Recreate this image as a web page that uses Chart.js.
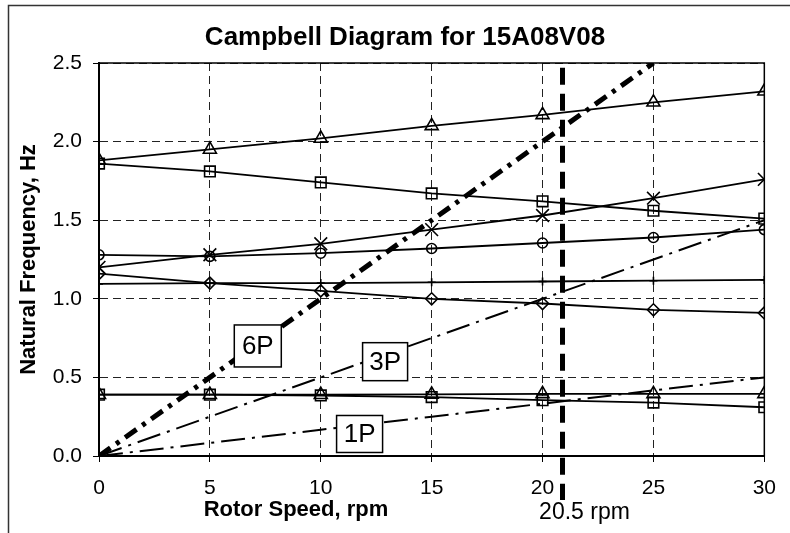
<!DOCTYPE html>
<html>
<head>
<meta charset="utf-8">
<script src="https://cdn.jsdelivr.net/npm/chart.js@4.4.1/dist/chart.umd.min.js"></script>
<style>
  html, body { margin: 0; padding: 0; background: #fff; }
  #wrap { width: 790px; height: 533px; }
</style>
</head>
<body>
<div id="wrap"><canvas id="myChart" width="790" height="533"></canvas></div>
<script>
// Rotor speeds (rpm)
const rpm = [0, 5, 10, 15, 20, 25, 30];
const rpm6P = [0, 5, 10, 15, 20, 25];

// Natural frequencies (Hz)
const modeTriUp   = [1.88, 1.95, 2.02, 2.10, 2.17, 2.25, 2.32];
const modeSqUp    = [1.86, 1.81, 1.74, 1.67, 1.62, 1.56, 1.51];
const modeCross   = [1.20, 1.28, 1.35, 1.44, 1.53, 1.64, 1.76];
const modeCircle  = [1.28, 1.27, 1.29, 1.32, 1.355, 1.39, 1.44];
const modeDiamond = [1.16, 1.10, 1.05, 1.00, 0.97, 0.93, 0.91];
const modePlus    = [1.095, 1.10, 1.10, 1.105, 1.11, 1.115, 1.12];
const modeTriLow  = [0.39, 0.39, 0.39, 0.392, 0.395, 0.395, 0.395];
const modeSqLow   = [0.39, 0.39, 0.385, 0.375, 0.355, 0.34, 0.31];

// Excitation lines (1P, 3P, 6P)
const excite1P = [0, 0.083, 0.167, 0.25, 0.333, 0.417, 0.5];
const excite3P = [0, 0.25, 0.5, 0.75, 1.0, 1.25, 1.5];
const excite6P = [0, 0.5, 1.0, 1.5, 2.0, 2.5];

// Operating speed marker
const opRpm = [20.9, 20.9];
const opFreq = [2.47, -0.28];
const opLabel = '20.5 rpm';

const chartTitle = 'Campbell Diagram for 15A08V08';
const xTitle = 'Rotor Speed, rpm';
const yTitle = 'Natural Frequency, Hz';

const FONT = '"Liberation Sans", Arial, sans-serif';

function pts(xs, ys) {
    return xs.map((x, i) => ({ x: x, y: ys[i] }));
}

function mode(ys, style, radius) {
    return {
        data: pts(rpm, ys),
        borderColor: '#000',
        borderWidth: 1.8,
        pointStyle: style,
        pointRadius: radius,
        pointBorderColor: '#000',
        pointBorderWidth: 1.6,
        pointBackgroundColor: 'rgba(0,0,0,0)',
        fill: false
    };
}

function excite(xs, ys, width, dash) {
    return {
        data: pts(xs, ys),
        borderColor: '#000',
        borderWidth: width,
        borderDash: dash,
        pointRadius: 0,
        fill: false
    };
}

// Labels on the excitation lines, boxes with white fill
const boxLabels = [
    { text: '6P', x: 7.16, y: 0.70, w: 47, h: 42 },
    { text: '3P', x: 12.9, y: 0.60, w: 45, h: 38 },
    { text: '1P', x: 11.75, y: 0.14, w: 46, h: 37 }
];

const decor = {
    id: 'decor',
    beforeDraw(chart) {
        const c = chart.ctx;
        c.save();
        c.fillStyle = '#fff';
        c.fillRect(0, 0, chart.width, chart.height);
        c.restore();
    },
    beforeDatasetsDraw(chart) {
        const c = chart.ctx, a = chart.chartArea;
        c.save();
        c.strokeStyle = '#000';
        c.lineWidth = 1.5;
        c.strokeRect(a.left, a.top, a.right - a.left, a.bottom - a.top);
        c.restore();
    },
    afterDatasetsDraw(chart) {
        const c = chart.ctx;
        const xs = chart.scales.x, ys = chart.scales.y;
        c.save();
        c.font = '26px ' + FONT;
        c.textAlign = 'center';
        c.textBaseline = 'middle';
        boxLabels.forEach(b => {
            const px = xs.getPixelForValue(b.x), py = ys.getPixelForValue(b.y);
            c.fillStyle = '#fff';
            c.fillRect(px - b.w / 2, py - b.h / 2, b.w, b.h);
            c.strokeStyle = '#000';
            c.lineWidth = 1.5;
            c.strokeRect(px - b.w / 2, py - b.h / 2, b.w, b.h);
            c.fillStyle = '#000';
            c.fillText(b.text, px, py + 1);
        });
        c.restore();
    },
    afterDraw(chart) {
        const c = chart.ctx;
        const xs = chart.scales.x;
        c.save();
        c.fillStyle = '#000';
        c.textAlign = 'center';
        c.textBaseline = 'middle';
        c.font = 'bold 26px ' + FONT;
        c.fillText(chartTitle, 405, 38);
        c.font = 'bold 22px ' + FONT;
        c.fillText(xTitle, 296, 510);
        c.font = '23px ' + FONT;
        c.fillText(opLabel, xs.getPixelForValue(opRpm[0]) + 22, 513);
        // outer frame
        c.strokeStyle = '#333';
        c.lineWidth = 1.5;
        c.beginPath();
        c.moveTo(8.5, 533);
        c.lineTo(8.5, 5.5);
        c.lineTo(790, 5.5);
        c.stroke();
        c.restore();
    }
};

const ctx = document.getElementById('myChart').getContext('2d');
const campbellChart = new Chart(ctx, {
    type: 'line',
    data: {
        datasets: [
            mode(modeTriUp, 'triangle', 7.5),
            mode(modeSqUp, 'rect', 7.5),
            mode(modeCross, 'crossRot', 9),
            mode(modeCircle, 'circle', 5),
            mode(modeDiamond, 'rectRot', 6),
            mode(modePlus, 'cross', 4),
            mode(modeTriLow, 'triangle', 7.5),
            mode(modeSqLow, 'rect', 7.5),
            excite(rpm6P, excite6P, 5, [14, 7, 4, 7]),
            excite(rpm, excite3P, 2, [24, 7, 3, 7]),
            excite(rpm, excite1P, 2, [24, 7, 3, 7]),
            Object.assign(excite(opRpm, opFreq, 5, [17, 9]), { clip: false })
        ]
    },
    options: {
        responsive: false,
        animation: false,
        layout: { padding: { top: 63, right: 24, bottom: 0, left: 0 } },
        plugins: {
            legend: { display: false },
            tooltip: { enabled: false },
            title: { display: false }
        },
        scales: {
            x: {
                type: 'linear',
                min: 0,
                max: 30,
                afterFit: s => { s.height = 77; },
                ticks: {
                    stepSize: 5,
                    padding: 14,
                    color: '#000',
                    font: { family: FONT, size: 21 }
                },
                grid: { color: '#222', lineWidth: 1, tickLength: 6, tickColor: '#000' },
                border: { display: true, color: '#000', width: 2, dash: [8, 5] }
            },
            y: {
                min: 0,
                max: 2.5,
                afterFit: s => { s.width = 99; },
                ticks: {
                    stepSize: 0.5,
                    padding: 11,
                    color: '#000',
                    font: { family: FONT, size: 21 },
                    callback: v => v.toFixed(1)
                },
                title: {
                    display: true,
                    text: yTitle,
                    color: '#000',
                    font: { family: FONT, size: 22, weight: 'bold' },
                    padding: { top: 16, bottom: 0 }
                },
                grid: { color: '#222', lineWidth: 1, tickLength: 6, tickColor: '#000' },
                border: { display: true, color: '#000', width: 2, dash: [8, 5] }
            }
        }
    },
    plugins: [decor]
});
</script>
</body>
</html>
